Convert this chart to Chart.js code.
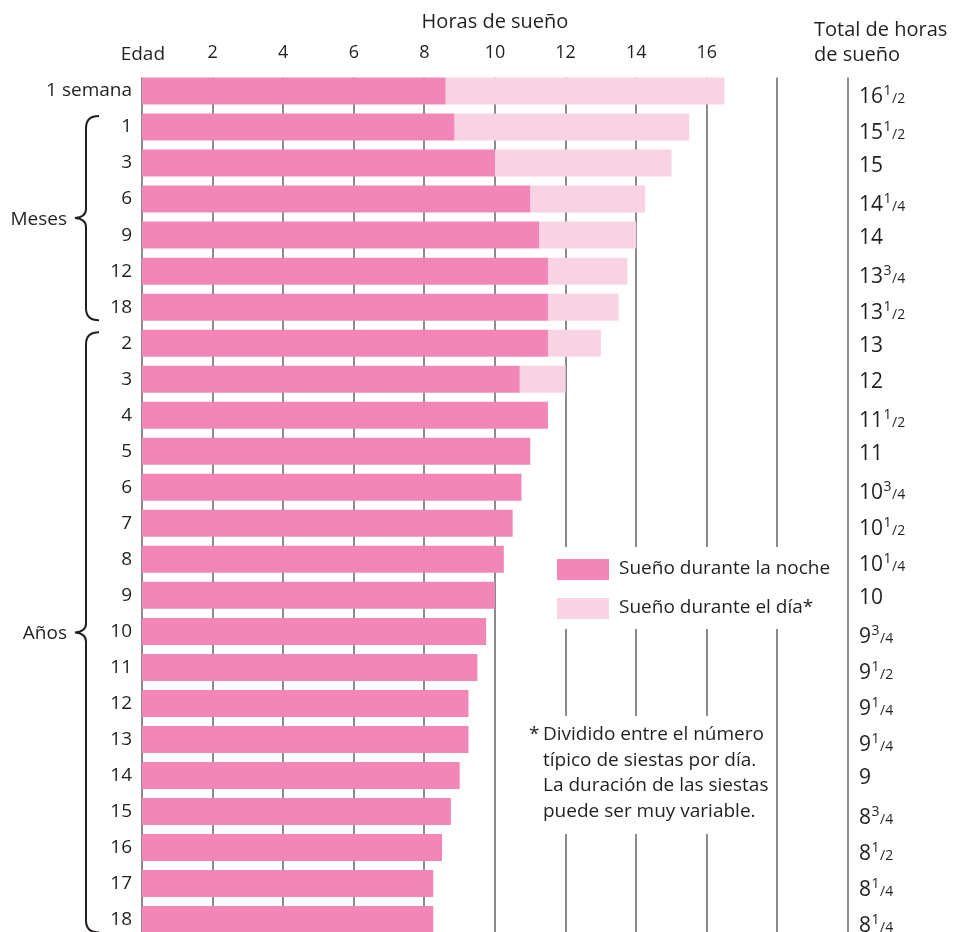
<!DOCTYPE html>
<html>
<head>
<meta charset="utf-8">
<script src="https://cdn.jsdelivr.net/npm/chart.js@4/dist/chart.umd.min.js"></script>
<style>
  html, body { margin: 0; padding: 0; background: #ffffff; overflow: hidden; }
  canvas { display: block; }
</style>
</head>
<body>
<canvas id="c" width="959" height="959" style="width:959px;height:959px"></canvas>
<script>
// ---- data ----
const ageLabels = ["1 semana", "1", "3", "6", "9", "12", "18",
  "2", "3", "4", "5", "6", "7", "8", "9", "10", "11", "12", "13", "14", "15", "16", "17", "18"];
const nightSleep = [8.6, 8.85, 10, 11, 11.25, 11.5, 11.5,
  11.5, 10.7, 11.5, 11, 10.75, 10.5, 10.25, 10, 9.75, 9.5, 9.25, 9.25, 9, 8.75, 8.5, 8.25, 8.25];
const daySleep = [7.9, 6.65, 5, 3.25, 2.75, 2.25, 2,
  1.5, 1.3, 0, 0, 0, 0, 0, 0, 0, 0, 0, 0, 0, 0, 0, 0, 0];
const totalWhole = ["16", "15", "15", "14", "14", "13", "13",
  "13", "12", "11", "11", "10", "10", "10", "10", "9", "9", "9", "9", "9", "8", "8", "8", "8"];
const totalFraction = [["1","2"], ["1","2"], null, ["1","4"], null, ["3","4"], ["1","2"],
  null, null, ["1","2"], null, ["3","4"], ["1","2"], ["1","4"], null, ["3","4"], ["1","2"], ["1","4"], ["1","4"], null, ["3","4"], ["1","2"], ["1","4"], ["1","4"]];
const xTickValues = [2, 4, 6, 8, 10, 12, 14, 16];
const seriesNames = ["Sueño durante la noche", "Sueño durante el día*"];
const groups = [
  { name: "Meses", from: 1, to: 6 },
  { name: "Años", from: 7, to: 23 }
];
const footnote = ["Dividido entre el número", "típico de siestas por día.", "La duración de las siestas", "puede ser muy variable."];

// ---- style ----
const DARK = "#f287b7";
const LIGHT = "#f9d3e4";
const GRID = "#8b8b8e";
const TEXT = "#231f20";
const FONT = "'Open Sans', 'DejaVu Sans', sans-serif";

const decor = {
  id: "decor",
  beforeDatasetsDraw(chart) {
    const ctx = chart.ctx, x = chart.scales.x, y = chart.scales.y;
    const step = y.getPixelForValue(1) - y.getPixelForValue(0);
    const top = y.getPixelForValue(0) - step * 0.75 / 2;
    const bottom = chart.height;
    ctx.save();
    ctx.strokeStyle = GRID;
    ctx.lineWidth = 2;
    for (let v = 0; v <= 20; v += 2) {
      const px = Math.round(x.getPixelForValue(v));
      ctx.beginPath(); ctx.moveTo(px, top); ctx.lineTo(px, bottom); ctx.stroke();
    }
    ctx.restore();
  },
  afterDatasetsDraw(chart) {
    const ctx = chart.ctx, x = chart.scales.x, y = chart.scales.y;
    ctx.save();
    ctx.fillStyle = TEXT;
    // headers
    ctx.font = "20px " + FONT;
    ctx.textBaseline = "alphabetic";
    ctx.textAlign = "center";
    ctx.fillText("Horas de sueño", x.getPixelForValue(10), 28);
    ctx.textAlign = "right";
    ctx.font = "19px " + FONT;
    ctx.fillText("Edad", 165, 60);
    ctx.textAlign = "left";
    ctx.font = "20px " + FONT;
    ctx.fillText("Total de horas", 814, 36);
    ctx.fillText("de sueño", 814, 61);

    // totals column
    for (let i = 0; i < ageLabels.length; i++) {
      const cy = y.getPixelForValue(i);
      const frac = totalFraction[i];
      const base = cy + (frac ? 12 : 9);
      ctx.font = "21px " + FONT;
      ctx.fillStyle = TEXT;
      ctx.fillText(totalWhole[i], 859, base);
      if (frac) {
        const w = ctx.measureText(totalWhole[i]).width;
        ctx.font = "14px " + FONT;
        ctx.fillText(frac[0], 859 + w + 0.5, base - 8);
        const w2 = ctx.measureText(frac[0]).width;
        ctx.fillText("/" + frac[1], 859 + w + w2 + 1, base);
      }
    }

    // braces
    ctx.strokeStyle = TEXT;
    ctx.lineWidth = 2;
    ctx.font = "19px " + FONT;
    groups.forEach(g => {
      const t = y.getPixelForValue(g.from) - 11;
      const b = y.getPixelForValue(g.to) + 13;
      const m = (t + b) / 2;
      const xe = 99, xv = 86, xt = 75;
      ctx.beginPath();
      ctx.moveTo(xe, t);
      ctx.quadraticCurveTo(xv, t, xv, t + 12);
      ctx.lineTo(xv, m - 9);
      ctx.quadraticCurveTo(xv, m - 1, xt, m);
      ctx.quadraticCurveTo(xv, m + 1, xv, m + 9);
      ctx.lineTo(xv, b - 12);
      ctx.quadraticCurveTo(xv, b, xe, b);
      ctx.stroke();
      ctx.textAlign = "right";
      ctx.textBaseline = "middle";
      ctx.fillText(g.name, 67, m + 1);
    });

    // legend box
    ctx.fillStyle = "#ffffff";
    ctx.fillRect(550, 547, 287, 82);
    ctx.fillStyle = DARK;
    ctx.fillRect(557, 559, 52, 21);
    ctx.fillStyle = LIGHT;
    ctx.fillRect(557, 598, 52, 21);
    ctx.fillStyle = TEXT;
    ctx.font = "19px " + FONT;
    ctx.textAlign = "left";
    ctx.textBaseline = "middle";
    ctx.fillText(seriesNames[0], 619, 569);
    ctx.fillText(seriesNames[1], 619, 608);

    // footnote box
    ctx.fillStyle = "#ffffff";
    ctx.fillRect(524, 716, 246, 118);
    ctx.fillStyle = TEXT;
    ctx.font = "19px " + FONT;
    ctx.fillText("*", 529, 735);
    footnote.forEach((line, k) => ctx.fillText(line, 543, 735 + k * 25.5));
    ctx.restore();
  }
};

new Chart(document.getElementById("c"), {
  type: "bar",
  data: {
    labels: ageLabels,
    datasets: [
      { label: seriesNames[0], data: nightSleep, backgroundColor: DARK, borderWidth: 0 },
      { label: seriesNames[1], data: daySleep, backgroundColor: LIGHT, borderWidth: 0 }
    ]
  },
  options: {
    indexAxis: "y",
    responsive: false,
    animation: false,
    layout: { padding: { left: 0, right: 111, top: 0, bottom: 0 } },
    plugins: { legend: { display: false }, tooltip: { enabled: false } },
    datasets: { bar: { barPercentage: 0.75, categoryPercentage: 1.0 } },
    scales: {
      x: {
        position: "top",
        stacked: true,
        min: 0, max: 20,
        afterBuildTicks: s => { s.ticks = xTickValues.map(v => ({ value: v })); },
        afterFit: s => { s.height = 73; },
        grid: { display: false, drawTicks: false },
        border: { display: false },
        ticks: { color: TEXT, font: { family: FONT, size: 18 }, padding: 9, maxRotation: 0, autoSkip: false }
      },
      y: {
        stacked: true,
        afterFit: s => { s.width = 142; },
        grid: { display: false, drawTicks: false },
        border: { display: false },
        ticks: { color: TEXT, font: { family: FONT, size: 19 }, padding: 10, autoSkip: false }
      }
    }
  },
  plugins: [decor]
});
</script>
</body>
</html>
